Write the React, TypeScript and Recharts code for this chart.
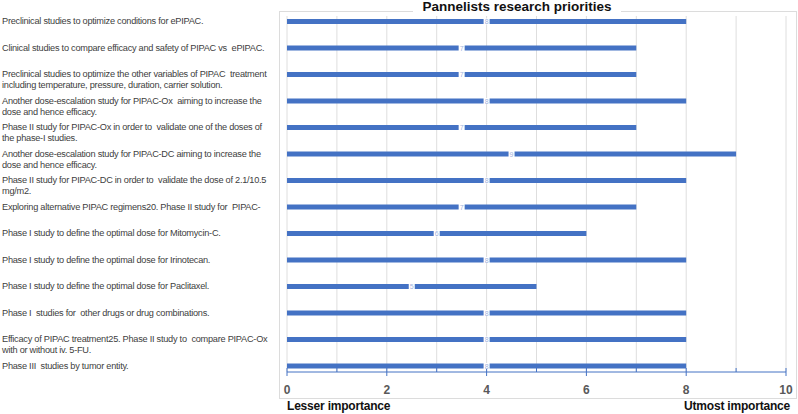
import { BarChart, Bar, XAxis, YAxis, CartesianGrid, LabelList } from "recharts";

const categories = [
  "Preclinical studies to optimize conditions for ePIPAC.",
  "Clinical studies to compare efficacy and safety of PIPAC vs  ePIPAC.",
  "Preclinical studies to optimize the other variables of PIPAC  treatment\nincluding temperature, pressure, duration, carrier solution.",
  "Another dose-escalation study for PIPAC-Ox  aiming to increase the\ndose and hence efficacy.",
  "Phase II study for PIPAC-Ox in order to  validate one of the doses of\nthe phase-I studies.",
  "Another dose-escalation study for PIPAC-DC aiming to increase the\ndose and hence efficacy.",
  "Phase II study for PIPAC-DC in order to  validate the dose of 2.1/10.5\nmg/m2.",
  "Exploring alternative PIPAC regimens20. Phase II study for  PIPAC-",
  "Phase I study to define the optimal dose for Mitomycin-C.",
  "Phase I study to define the optimal dose for Irinotecan.",
  "Phase I study to define the optimal dose for Paclitaxel.",
  "Phase I  studies for  other drugs or drug combinations.",
  "Efficacy of PIPAC treatment25. Phase II study to  compare PIPAC-Ox\nwith or without iv. 5-FU.",
  "Phase III  studies by tumor entity.",
];
const scores = [8, 7, 7, 8, 7, 9, 8, 7, 6, 8, 5, 8, 8, 8];
const xTicks = [0, 1, 2, 3, 4, 5, 6, 7, 8, 9, 10];

const BLUE = "#4472C4";
const rows = categories.map((name, i) => ({ name, score: scores[i] }));

function CategoryTick(props: any) {
  const { y, payload } = props;
  const lines = String(payload.value).split("\n");
  return (
    <text
      x={2}
      y={y}
      fontSize={9.2}
      letterSpacing={-0.25}
      fill="#404040"
      fontFamily="Liberation Sans, Arial, sans-serif"
      textAnchor="start"
    >
      {lines.map((l, i) => (
        <tspan key={i} x={2} dy={i === 0 ? 3 : 11} style={{ whiteSpace: "pre" }}>
          {l}
        </tspan>
      ))}
    </text>
  );
}

function ValueTick(props: any) {
  const { x, y, payload } = props;
  const axisY = y - 8;
  const major = payload.value % 2 === 0;
  return (
    <g>
      <line x1={x} x2={x} y1={axisY - 4} y2={major ? axisY + 4 : axisY} stroke={BLUE} strokeWidth={1} />
      {major && (
        <text x={x} y={axisY + 21.5} textAnchor="middle" fontSize={12} fontWeight="bold" fill="#595959" fontFamily="Liberation Sans, Arial, sans-serif">
          {payload.value}
        </text>
      )}
    </g>
  );
}

function MidLabel(props: any) {
  const { x, y, width, height, value } = props;
  const cx = x + width / 2;
  const cy = y + height / 2;
  return (
    <g>
      <rect x={cx - 3} y={cy - 3} width={6} height={6} fill="#fff" />
      <text x={cx} y={cy + 2.5} textAnchor="middle" fontSize={7} fill="#9fb4dc" fontFamily="Liberation Sans, Arial, sans-serif">
        {value}
      </text>
    </g>
  );
}

const bold: React.CSSProperties = {
  position: "absolute",
  fontFamily: "Liberation Sans, Arial, sans-serif",
  fontWeight: "bold",
  color: "#111",
  whiteSpace: "nowrap",
};

export default function App() {
  return (
    <div style={{ position: "absolute", left: 0, top: 0, width: 798, height: 414, background: "#fff" }}>
      <div style={{ position: "absolute", left: 279, top: 11, width: 516, height: 386, border: "1px solid #dcdcdc" }} />
      <div style={{ ...bold, left: 413, top: -1, width: 208, textAlign: "center", background: "#fff", fontSize: 13.5, lineHeight: "16px" }}>
        Pannelists research priorities
      </div>
      <div style={{ position: "absolute", left: 0, top: 0 }}>
        <BarChart width={798} height={414} data={rows} layout="vertical" margin={{ top: 16, right: 12, bottom: 12, left: 0 }}>
          <CartesianGrid horizontal={false} stroke="#dedede" />
          <XAxis
            type="number"
            domain={[0, 10]}
            ticks={xTicks}
            interval={0}
            height={30}
            axisLine={{ stroke: BLUE }}
            tickLine={false}
            tick={<ValueTick />}
          />
          <YAxis
            type="category"
            dataKey="name"
            width={287}
            axisLine={false}
            tickLine={false}
            interval={0}
            padding={{ top: -8, bottom: -7 }}
            tick={<CategoryTick />}
          />
          <Bar dataKey="score" fill={BLUE} barSize={5} isAnimationActive={false}>
            <LabelList dataKey="score" content={<MidLabel />} />
          </Bar>
        </BarChart>
      </div>
      <div style={{ ...bold, left: 287, top: 399, fontSize: 12, letterSpacing: -0.2 }}>Lesser importance</div>
      <div style={{ ...bold, right: 8, top: 399, fontSize: 12, letterSpacing: -0.2 }}>Utmost importance</div>
    </div>
  );
}
